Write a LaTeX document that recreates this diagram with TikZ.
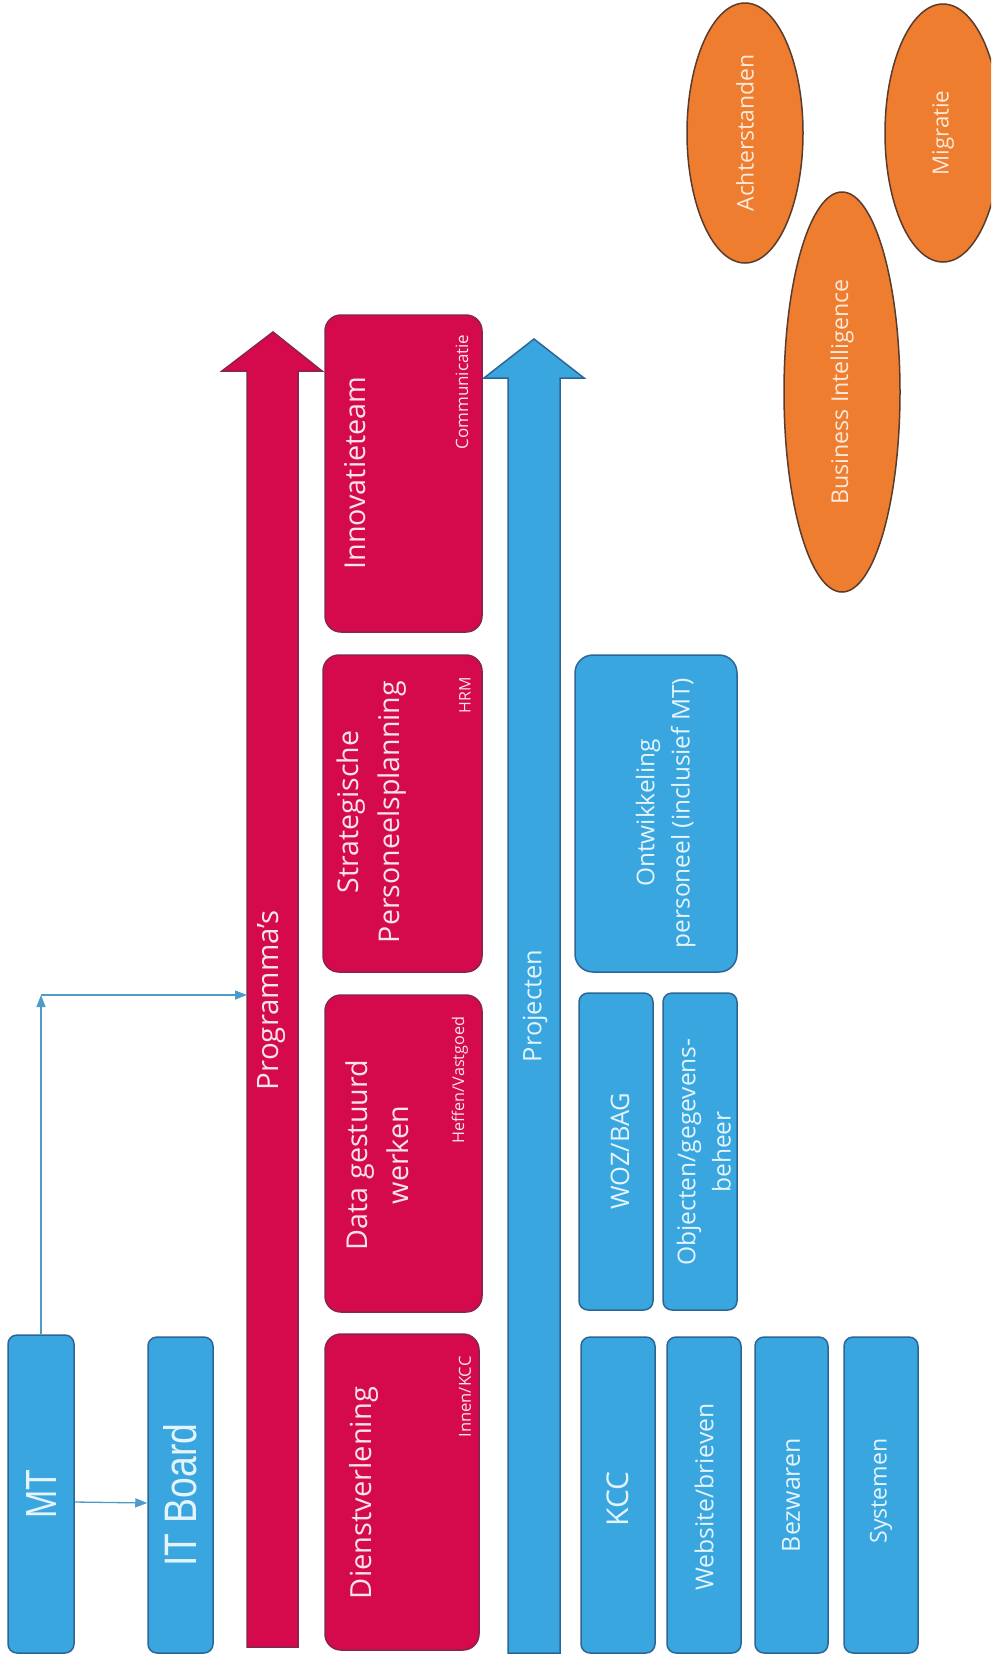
\documentclass[tikz,border=0pt]{standalone}
\usepackage{fontspec}
\setmainfont{Open Sans}
\newfontfamily\arialf{Liberation Sans}
\usepackage{graphicx}
\usetikzlibrary{shapes.geometric,arrows.meta}
\definecolor{rfill}{HTML}{D40A4C}
\definecolor{rdraw}{HTML}{8A2350}
\definecolor{bfill}{HTML}{3AA6DF}
\definecolor{bdraw}{HTML}{2C6696}
\definecolor{ofill}{HTML}{EE7D30}
\definecolor{odraw}{HTML}{5B3B2B}
\definecolor{rtext}{HTML}{FBE3EA}
\definecolor{btext}{HTML}{E3F4FD}
\definecolor{otext}{HTML}{FDE9D9}
\definecolor{lnk}{HTML}{4B9CC9}
\newcommand\rt[2]{\rotatebox{90}{\resizebox{#1pt}{!}{#2}}}
\newcommand\twol[3]{\rotatebox{90}{\resizebox{#1pt}{!}{\renewcommand\arraystretch{1.2}\begin{tabular}{@{}c@{}}#2\\#3\end{tabular}}}}
\tikzset{
  redbox/.style={rectangle, rounded corners=16pt, fill=rfill, draw=rdraw, line width=1.5pt, inner sep=0pt},
  bluebox/.style={rectangle, rounded corners=9pt, fill=bfill, draw=bdraw, line width=1.5pt, inner sep=0pt},
  bigblue/.style={bluebox, rounded corners=18pt},
  orangeel/.style={ellipse, fill=ofill, draw=odraw, line width=1.5pt, inner sep=0pt, text=otext},
  rlabel/.style={inner sep=0pt, text=rtext},
  blabel/.style={inner sep=0pt, text=btext},
  link/.style={draw=lnk, line width=1.3pt, -{Triangle[length=12pt,width=9pt]}},
}
\begin{document}
\begin{tikzpicture}[x=1pt,y=-1pt]
\useasboundingbox (0,0) rectangle (991,1660);
\fill[white] (0,0) rectangle (991,1660);
\begin{scope}
\clip (0,0) rectangle (991,1660);
% orange ellipses
\node[orangeel, minimum width=116pt, minimum height=260pt] (acht) at (745,133) {\rt{157}{Achterstanden}};
\node[orangeel, minimum width=116pt, minimum height=400pt] (bi) at (842,392) {\rt{225}{Business Intelligence}};
\node[orangeel, minimum width=116pt, minimum height=258pt] (migr) at (943,133) {\rt{85}{Migratie}};
\end{scope}
% big arrows
\fill[rfill, draw=rdraw, line width=1.5pt] (247,1647) -- (247,371) -- (222,371) -- (273,332) -- (322,371) -- (298,371) -- (298,1647) -- cycle;
\fill[bfill, draw=bdraw, line width=1.5pt] (508,1653) -- (508,378) -- (484,378) -- (534,339) -- (584,378) -- (560,378) -- (560,1653) -- cycle;
\node[rlabel] (progtxt) at (272,1000) {\rt{180}{Programma’s}};
\node[blabel] (projtxt) at (535,1006) {\rt{112}{Projecten}};
% MT and IT Board
\node[bluebox, minimum width=66pt, minimum height=318pt, text=btext] (mt) at (41,1494) {\rotatebox{90}{\resizebox{49pt}{30pt}{\arialf MT}}};
\node[bluebox, minimum width=65pt, minimum height=316pt, text=btext] (itb) at (180.5,1495) {\rotatebox{90}{\resizebox{143pt}{33pt}{\arialf IT Board}}};
% red program boxes
\node[redbox, minimum width=154pt, minimum height=316pt] (dien) at (402,1492) {};
\node[redbox, minimum width=157pt, minimum height=317pt] (data) at (403.5,1153.5) {};
\node[redbox, minimum width=159pt, minimum height=317pt] (strat) at (402.5,813.5) {};
\node[redbox, minimum width=157pt, minimum height=317pt] (innov) at (403.5,473.5) {};
\node[rlabel] (dientxt) at (364,1493) {\rt{212}{Dienstverlening}};
\node[rlabel] (dienlab) at (465,1397) {\rt{81}{Innen/KCC}};
\node[rlabel] (datatxt) at (380,1155) {\twol{190}{Data gestuurd}{werken}};
\node[rlabel] (datalab) at (460,1080) {\rt{126}{Heffen/Vastgoed}};
\node[rlabel] (strattxt) at (371,812) {\twol{262}{Strategische}{Personeelsplanning}};
\node[rlabel] (stratlab) at (465,695) {\rt{36}{HRM}};
\node[rlabel] (innovtxt) at (355,473) {\rt{193}{Innovatieteam}};
\node[rlabel] (innovlab) at (462,392) {\rt{115}{Communicatie}};
% blue project boxes
\node[bluebox, minimum width=74pt, minimum height=316pt] (kcc) at (618,1495) {};
\node[bluebox, minimum width=74pt, minimum height=316pt] (web) at (704,1495) {};
\node[bluebox, minimum width=73pt, minimum height=316pt] (bez) at (791.5,1495) {};
\node[bluebox, minimum width=74pt, minimum height=316pt] (sys) at (881,1495) {};
\node[bluebox, minimum width=74pt, minimum height=317pt] (woz) at (616,1151.5) {};
\node[bluebox, minimum width=74pt, minimum height=317pt] (obj) at (700,1151.5) {};
\node[bigblue, minimum width=162pt, minimum height=317pt] (ontw) at (656,813.5) {};
\node[blabel] (kcctxt) at (618,1499) {\rt{55}{KCC}};
\node[blabel] (webtxt) at (704,1497) {\rt{187}{Website/brieven}};
\node[blabel] (beztxt) at (791,1495) {\rt{114}{Bezwaren}};
\node[blabel] (systxt) at (881,1491) {\rt{105}{Systemen}};
\node[blabel] (woztxt) at (620,1151) {\rt{117}{WOZ/BAG}};
\node[blabel] (objtxt) at (706,1152) {\twol{227}{Objecten/gegevens-}{beheer}};
\node[blabel] (ontwtxt) at (665,813) {\twol{270}{Ontwikkeling}{personeel (inclusief MT)}};
% connectors
\coordinate (corner) at (41,995);
\coordinate (progL) at (247,995);
\draw[link] (mt.north) -- (corner);
\draw[link] (corner) -- (progL);
\draw[link] ([yshift=-8pt]mt.east) -- ([yshift=-8pt]itb.west);
\end{tikzpicture}
\end{document}
